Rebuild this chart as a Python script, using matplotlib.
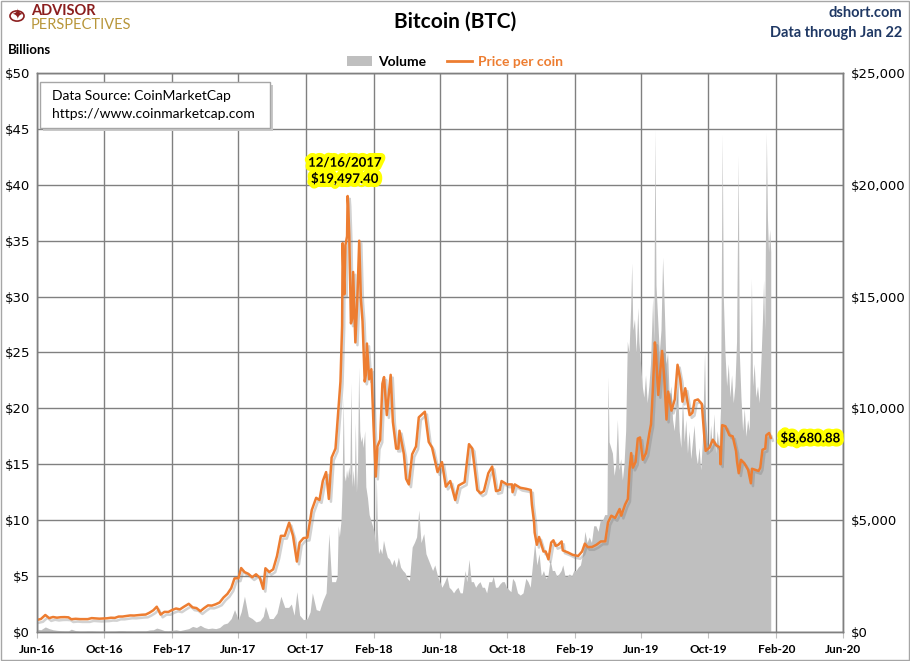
import pandas as pd
import numpy as np
import matplotlib
matplotlib.use("Agg")
import matplotlib.pyplot as plt
import matplotlib.dates as mdates
import matplotlib.patheffects as pe
from matplotlib.patches import Patch, Rectangle, Circle
from matplotlib.lines import Line2D

# Bitcoin price per coin (USD)
price_dates = [
    "2016-06-01", "2016-06-08", "2016-06-16", "2016-06-23", "2016-06-30", "2016-07-07", "2016-07-14",
    "2016-07-21", "2016-07-28", "2016-08-02", "2016-08-10", "2016-08-18", "2016-08-25", "2016-09-01",
    "2016-09-08", "2016-09-15", "2016-09-22", "2016-09-29", "2016-10-06", "2016-10-13", "2016-10-20",
    "2016-10-27", "2016-11-03", "2016-11-10", "2016-11-17", "2016-11-24", "2016-12-01", "2016-12-08",
    "2016-12-15", "2016-12-22", "2016-12-29",
    "2017-01-04", "2017-01-11", "2017-01-18", "2017-01-25", "2017-02-01", "2017-02-08", "2017-02-15",
    "2017-02-22", "2017-03-03", "2017-03-10", "2017-03-17", "2017-03-24", "2017-03-31", "2017-04-07",
    "2017-04-14", "2017-04-21", "2017-04-28", "2017-05-05", "2017-05-12", "2017-05-19", "2017-05-25",
    "2017-06-01", "2017-06-06", "2017-06-12", "2017-06-19", "2017-06-26", "2017-07-03", "2017-07-10",
    "2017-07-16", "2017-07-20", "2017-07-27", "2017-08-03", "2017-08-10", "2017-08-17", "2017-08-24",
    "2017-09-01", "2017-09-08", "2017-09-15", "2017-09-20", "2017-09-27", "2017-10-04", "2017-10-12",
    "2017-10-20", "2017-10-26", "2017-11-01", "2017-11-07", "2017-11-12", "2017-11-17", "2017-11-24",
    "2017-11-29", "2017-12-03", "2017-12-06", "2017-12-07", "2017-12-08", "2017-12-10", "2017-12-12",
    "2017-12-15", "2017-12-16", "2017-12-17", "2017-12-19", "2017-12-22", "2017-12-24", "2017-12-26",
    "2017-12-30",
    "2018-01-03", "2018-01-06", "2018-01-09", "2018-01-12", "2018-01-16", "2018-01-18", "2018-01-20",
    "2018-01-24", "2018-01-28", "2018-02-01", "2018-02-05", "2018-02-08", "2018-02-13", "2018-02-17",
    "2018-02-20", "2018-02-25", "2018-03-04", "2018-03-08", "2018-03-14", "2018-03-18", "2018-03-20",
    "2018-03-28", "2018-04-01", "2018-04-06", "2018-04-12", "2018-04-19", "2018-04-24", "2018-05-05",
    "2018-05-12", "2018-05-18", "2018-05-28", "2018-06-05", "2018-06-12", "2018-06-20", "2018-06-29",
    "2018-07-05", "2018-07-16", "2018-07-24", "2018-07-30", "2018-08-08", "2018-08-14", "2018-08-20",
    "2018-08-28", "2018-09-04", "2018-09-11", "2018-09-18", "2018-09-21", "2018-10-01", "2018-10-10",
    "2018-10-11", "2018-10-15", "2018-10-25", "2018-11-05", "2018-11-13", "2018-11-15", "2018-11-19",
    "2018-11-20", "2018-11-24", "2018-11-28", "2018-12-06", "2018-12-10", "2018-12-15", "2018-12-20",
    "2018-12-24", "2018-12-28",
    "2019-01-02", "2019-01-08", "2019-01-10", "2019-01-20", "2019-01-28", "2019-02-07", "2019-02-14",
    "2019-02-19", "2019-02-24", "2019-03-04", "2019-03-12", "2019-03-20", "2019-03-28", "2019-04-02",
    "2019-04-08", "2019-04-15", "2019-04-23", "2019-04-26", "2019-05-03", "2019-05-08", "2019-05-11",
    "2019-05-14", "2019-05-17", "2019-05-22", "2019-05-26", "2019-05-30", "2019-06-04", "2019-06-10",
    "2019-06-16", "2019-06-19", "2019-06-22", "2019-06-26", "2019-06-28", "2019-07-02", "2019-07-09",
    "2019-07-13", "2019-07-17", "2019-07-20", "2019-07-26", "2019-08-01", "2019-08-06", "2019-08-11",
    "2019-08-15", "2019-08-20", "2019-08-28", "2019-09-02", "2019-09-06", "2019-09-12", "2019-09-19",
    "2019-09-24", "2019-09-26", "2019-10-03", "2019-10-09", "2019-10-15", "2019-10-22", "2019-10-23",
    "2019-10-25", "2019-10-26", "2019-11-01", "2019-11-08", "2019-11-14", "2019-11-20", "2019-11-22",
    "2019-11-25", "2019-11-29", "2019-12-05", "2019-12-12", "2019-12-17", "2019-12-19", "2019-12-25",
    "2019-12-31",
    "2020-01-03", "2020-01-07", "2020-01-12", "2020-01-14", "2020-01-19", "2020-01-22",
]
price_usd = [
    540, 580, 760, 620, 670, 640, 660,
    665, 655, 570, 590, 575, 575, 575,
    620, 608, 595, 605, 612, 637, 630,
    690, 690, 715, 740, 735, 755, 770,
    780, 865, 975,
    1130, 780, 900, 895, 985, 1050, 1010,
    1125, 1260, 1100, 1070, 930, 1070, 1190,
    1180, 1240, 1320, 1540, 1700, 1960, 2400,
    2400, 2860, 2680, 2600, 2450, 2580, 2420,
    1930, 2850, 2680, 2800, 3400, 4300, 4300,
    4890, 4300, 3150, 4000, 4200, 4220, 5450,
    6000, 5900, 6750, 7150, 5950, 7800, 8200,
    9900, 11200, 13700, 17390, 16400, 15100, 17300,
    17700, 19497.40, 19140, 17700, 13800, 14000, 16100,
    12950,
    15150, 17500, 14900, 13900, 11200, 11500, 12900,
    11300, 11750, 9200, 6950, 8300, 8600, 11100,
    11400, 9700, 11500, 9400, 8200, 8200, 9000,
    7950, 6850, 6600, 7950, 8300, 9600, 9850,
    8500, 8250, 7150, 7600, 6500, 6750, 5900,
    6550, 6700, 8400, 8200, 6350, 6200, 6300,
    7100, 7400, 6300, 6350, 6750, 6600, 6600,
    6250, 6600, 6450, 6400, 6350, 5700, 4900,
    4450, 3900, 4250, 3600, 3600, 3250, 4000,
    4100, 3850,
    3900, 4050, 3650, 3550, 3450, 3400, 3600,
    3950, 3800, 3800, 3900, 4050, 4050, 4900,
    5200, 5100, 5500, 5200, 5700, 5950, 7250,
    8000, 7350, 7600, 8650, 8700, 7700, 8000,
    8900, 9300, 10700, 12950, 12400, 10600, 12570,
    11350, 9500, 10750, 9900, 10400, 11950, 11300,
    10300, 10900, 9700, 9800, 10350, 10400, 10200,
    8600, 8100, 8250, 8600, 8350, 8250, 7500,
    8650, 9250, 9200, 8800, 8750, 8100, 7600,
    7100, 7700, 7550, 7250, 6650, 7300, 7250,
    7200,
    7350, 8150, 8200, 8800, 8900, 8680.88,
]

# Trading volume (billions of USD), by year
vol_dates_2016 = [
    "2016-06-01", "2016-06-08", "2016-06-16", "2016-06-23", "2016-06-30", "2016-07-07", "2016-07-14",
    "2016-07-21", "2016-07-28", "2016-08-02", "2016-08-10", "2016-08-18", "2016-08-25", "2016-09-01",
    "2016-09-08", "2016-09-15", "2016-09-22", "2016-09-29", "2016-10-06", "2016-10-13", "2016-10-20",
    "2016-10-27", "2016-11-03", "2016-11-10", "2016-11-17", "2016-11-24", "2016-12-01", "2016-12-08",
    "2016-12-15", "2016-12-22", "2016-12-29",
]
vol_bn_2016 = [
    0.25, 0.2, 0.45, 0.3, 0.2, 0.15, 0.12,
    0.1, 0.1, 0.25, 0.12, 0.08, 0.08, 0.1,
    0.1, 0.08, 0.07, 0.08, 0.07, 0.08, 0.08,
    0.12, 0.12, 0.1, 0.1, 0.09, 0.1, 0.1,
    0.1, 0.18, 0.2,
]
vol_dates_2017 = [
    "2017-01-04", "2017-01-11", "2017-01-18", "2017-01-25", "2017-02-01", "2017-02-08", "2017-02-15",
    "2017-02-22", "2017-03-03", "2017-03-10", "2017-03-17", "2017-03-24", "2017-03-31", "2017-04-07",
    "2017-04-14", "2017-04-21", "2017-04-28", "2017-05-05", "2017-05-12", "2017-05-19", "2017-05-25",
    "2017-06-01", "2017-06-06", "2017-06-12", "2017-06-19", "2017-06-26", "2017-07-03", "2017-07-10",
    "2017-07-16", "2017-07-20", "2017-07-27", "2017-08-03", "2017-08-10", "2017-08-17", "2017-08-24",
    "2017-08-31", "2017-09-05", "2017-09-10", "2017-09-15", "2017-09-20", "2017-09-27", "2017-10-04",
    "2017-10-09", "2017-10-13", "2017-10-20", "2017-10-26", "2017-11-01", "2017-11-07", "2017-11-12",
    "2017-11-17", "2017-11-24", "2017-11-27", "2017-11-29", "2017-12-01", "2017-12-04", "2017-12-06",
    "2017-12-08", "2017-12-10", "2017-12-12", "2017-12-14", "2017-12-16", "2017-12-18", "2017-12-20",
    "2017-12-22", "2017-12-24", "2017-12-26", "2017-12-28", "2017-12-30",
]
vol_bn_2017 = [
    0.35, 0.25, 0.12, 0.1, 0.15, 0.2, 0.12,
    0.2, 0.3, 0.5, 0.4, 0.6, 0.4, 0.3,
    0.35, 0.3, 0.4, 0.7, 0.8, 1.2, 2.0,
    1.1, 1.8, 3.2, 1.4, 1.2, 0.9, 1.0,
    1.4, 2.3, 1.2, 1.2, 1.7, 3.2, 2.2,
    2.2, 2.5, 1.5, 3.6, 1.5, 1.1, 1.2,
    1.8, 3.5, 2.0, 1.9, 2.8, 3.5, 8.8,
    4.5, 4.5, 5.0, 9.5, 8.5, 10.0, 13.0,
    21.0, 14.0, 13.5, 14.5, 13.8, 14.8, 14.0,
    22.3, 13.0, 14.5, 13.0, 18.7,
]
vol_dates_2018 = [
    "2018-01-01", "2018-01-03", "2018-01-05", "2018-01-07", "2018-01-09", "2018-01-11", "2018-01-13",
    "2018-01-16", "2018-01-18", "2018-01-21", "2018-01-24", "2018-01-27", "2018-01-30", "2018-02-02",
    "2018-02-04", "2018-02-06", "2018-02-08", "2018-02-10", "2018-02-13", "2018-02-16", "2018-02-19",
    "2018-02-22", "2018-02-26", "2018-03-02", "2018-03-06", "2018-03-10", "2018-03-14", "2018-03-18",
    "2018-03-22", "2018-03-26", "2018-03-30", "2018-04-03", "2018-04-07", "2018-04-12", "2018-04-16",
    "2018-04-20", "2018-04-24", "2018-04-28", "2018-05-03", "2018-05-07", "2018-05-11", "2018-05-15",
    "2018-05-19", "2018-05-23", "2018-05-28", "2018-06-01", "2018-06-05", "2018-06-10", "2018-06-14",
    "2018-06-18", "2018-06-22", "2018-06-26", "2018-06-30", "2018-07-04", "2018-07-08", "2018-07-12",
    "2018-07-17", "2018-07-20", "2018-07-24", "2018-07-28", "2018-08-01", "2018-08-05", "2018-08-09",
    "2018-08-13", "2018-08-17", "2018-08-21", "2018-08-25", "2018-08-29", "2018-09-03", "2018-09-06",
    "2018-09-10", "2018-09-14", "2018-09-18", "2018-09-22", "2018-09-26", "2018-09-30", "2018-10-04",
    "2018-10-08", "2018-10-11", "2018-10-15", "2018-10-20", "2018-10-25", "2018-10-30", "2018-11-04",
    "2018-11-08", "2018-11-12", "2018-11-15", "2018-11-20", "2018-11-24", "2018-11-28", "2018-12-02",
    "2018-12-06", "2018-12-10", "2018-12-14", "2018-12-18", "2018-12-22", "2018-12-26", "2018-12-30",
]
vol_bn_2018 = [
    12.5, 15.0, 23.7, 18.0, 17.0, 17.5, 16.5,
    18.0, 13.0, 12.0, 10.5, 10.0, 9.5, 9.0,
    8.0, 14.0, 9.0, 7.0, 7.5, 7.0, 8.2,
    7.5, 6.7, 6.5, 6.0, 6.5, 5.8, 6.7,
    5.8, 5.5, 5.3, 4.8, 4.6, 7.6, 8.0,
    8.5, 10.9, 8.0, 8.8, 7.0, 6.5, 6.0,
    5.5, 6.0, 5.0, 4.5, 4.0, 4.5, 5.0,
    4.0, 3.8, 3.5, 3.8, 4.0, 3.5, 3.5,
    5.5, 4.5, 6.5, 4.5, 4.5, 4.0, 4.3,
    4.5, 4.0, 4.0, 3.5, 4.5, 4.5, 5.0,
    4.0, 4.0, 4.3, 4.5, 4.5, 4.0, 3.8,
    3.6, 4.8, 4.5, 3.5, 3.3, 3.5, 4.8,
    4.5, 4.0, 5.5, 8.0, 6.0, 7.0, 5.0,
    5.5, 4.8, 5.0, 6.5, 5.5, 5.5, 5.0,
]
vol_dates_2019 = [
    "2019-01-03", "2019-01-07", "2019-01-10", "2019-01-14", "2019-01-18", "2019-01-22", "2019-01-26",
    "2019-01-30", "2019-02-03", "2019-02-07", "2019-02-11", "2019-02-15", "2019-02-19", "2019-02-23",
    "2019-02-27", "2019-03-03", "2019-03-07", "2019-03-11", "2019-03-15", "2019-03-19", "2019-03-23",
    "2019-03-27", "2019-03-31", "2019-04-02", "2019-04-04", "2019-04-07", "2019-04-10", "2019-04-13",
    "2019-04-16", "2019-04-19", "2019-04-22", "2019-04-25", "2019-04-28", "2019-05-01", "2019-05-04",
    "2019-05-07", "2019-05-10", "2019-05-13", "2019-05-15", "2019-05-17", "2019-05-20", "2019-05-23",
    "2019-05-26", "2019-05-28", "2019-05-31", "2019-06-03", "2019-06-06", "2019-06-09", "2019-06-12",
    "2019-06-15", "2019-06-18", "2019-06-22", "2019-06-24", "2019-06-26", "2019-06-28", "2019-07-01",
    "2019-07-04", "2019-07-07", "2019-07-10", "2019-07-13", "2019-07-16", "2019-07-19", "2019-07-22",
    "2019-07-25", "2019-07-28", "2019-07-31", "2019-08-03", "2019-08-06", "2019-08-09", "2019-08-12",
    "2019-08-15", "2019-08-18", "2019-08-21", "2019-08-24", "2019-08-27", "2019-08-30", "2019-09-02",
    "2019-09-05", "2019-09-08", "2019-09-11", "2019-09-14", "2019-09-17", "2019-09-20", "2019-09-24",
    "2019-09-26", "2019-09-29", "2019-10-02", "2019-10-05", "2019-10-08", "2019-10-11", "2019-10-14",
    "2019-10-17", "2019-10-20", "2019-10-23", "2019-10-26", "2019-10-28", "2019-10-31", "2019-11-03",
    "2019-11-06", "2019-11-09", "2019-11-12", "2019-11-15", "2019-11-18", "2019-11-21", "2019-11-24",
    "2019-11-26", "2019-11-29", "2019-12-02", "2019-12-05", "2019-12-08", "2019-12-11", "2019-12-14",
    "2019-12-18", "2019-12-20", "2019-12-23", "2019-12-26", "2019-12-29",
]
vol_bn_2019 = [
    5.2, 5.5, 6.0, 5.0, 5.0, 5.2, 5.0,
    5.5, 5.5, 5.8, 6.0, 7.0, 9.0, 8.0,
    8.5, 8.0, 9.5, 9.5, 9.0, 10.0, 10.0,
    10.5, 10.5, 22.8, 17.0, 16.5, 16.0, 14.0,
    15.0, 19.0, 14.5, 15.5, 13.6, 15.0, 18.0,
    26.0, 25.0, 29.0, 33.0, 27.0, 28.0, 25.0,
    29.0, 26.0, 24.0, 22.0, 21.0, 23.0, 20.5,
    22.0, 24.0, 30.0, 26.0, 45.0, 31.0, 28.0,
    25.0, 27.0, 33.5, 29.0, 24.0, 25.0, 21.0,
    22.0, 19.0, 18.0, 20.0, 22.0, 18.0, 16.5,
    21.0, 17.0, 19.0, 16.0, 18.0, 15.5, 17.0,
    18.5, 16.0, 15.0, 16.5, 14.5, 17.0, 25.0,
    19.0, 17.0, 16.0, 18.5, 16.5, 19.5, 16.0,
    18.0, 16.5, 20.0, 44.5, 30.0, 25.0, 22.0,
    24.0, 21.0, 23.0, 20.5, 22.0, 26.0, 42.6,
    25.0, 21.0, 18.0, 20.0, 17.5, 19.0, 18.0,
    31.6, 22.0, 24.0, 21.0, 22.0,
]
vol_dates_2020 = [
    "2020-01-01", "2020-01-04", "2020-01-07", "2020-01-09", "2020-01-11", "2020-01-14", "2020-01-16",
    "2020-01-18", "2020-01-20", "2020-01-22",
]
vol_bn_2020 = [
    20.5, 24.0, 28.0, 31.5, 27.0, 44.7, 37.0,
    34.0, 36.0, 34.0,
]

vol_dates = vol_dates_2016 + vol_dates_2017 + vol_dates_2018 + vol_dates_2019 + vol_dates_2020
vol_bn = vol_bn_2016 + vol_bn_2017 + vol_bn_2018 + vol_bn_2019 + vol_bn_2020
assert len(vol_dates) == len(vol_bn)
assert len(price_dates) == len(price_usd)

price = pd.Series(price_usd, index=pd.to_datetime(price_dates))
volume = pd.Series(vol_bn, index=pd.to_datetime(vol_dates))

plt.rcParams['font.family'] = ['Lato', 'DejaVu Sans']

fig = plt.figure(figsize=(9.1, 6.61), dpi=100)
ax = fig.add_axes([0.0407, 0.0439, 0.8857, 0.8457])
ax2 = ax.twinx()

grid_col = '#808080'
ax.set_axisbelow(True)
ax.grid(True, color=grid_col, linewidth=1.0)
ax.fill_between(volume.index, 0, volume.values, color='#BFBFBF', linewidth=0, zorder=2)

shadow = [pe.SimpleLineShadow(offset=(1.5, -2), shadow_color='#7f7f7f', alpha=0.35), pe.Normal()]
ax2.plot(price.index, price.values, color='#ED7D31', linewidth=1.8, path_effects=shadow)

ax.set_xlim(pd.Timestamp('2016-06-01'), pd.Timestamp('2020-06-01'))
ax.set_ylim(0, 50)
ax2.set_ylim(0, 25000)
ax.set_yticks(np.arange(0, 51, 5))
ax2.set_yticks(np.arange(0, 25001, 5000))
ax.set_yticklabels(['$%d' % v for v in np.arange(0, 51, 5)])
ax2.set_yticklabels(['${:,}'.format(v) for v in np.arange(0, 25001, 5000)])

ax.xaxis.set_major_locator(mdates.MonthLocator(bymonth=[2, 6, 10]))
ax.xaxis.set_major_formatter(mdates.DateFormatter('%b-%y'))

for a in (ax, ax2):
    for s in a.spines.values():
        s.set_color(grid_col)
        s.set_linewidth(1.0)
ax.tick_params(axis='y', length=0, pad=5, labelsize=9.5)
ax2.tick_params(axis='y', length=0, pad=6, labelsize=9.5)
for lbl in ax.get_yticklabels() + ax2.get_yticklabels():
    lbl.set_family('DejaVu Sans')
ax.tick_params(axis='x', length=4, color='#BFBFBF', pad=5, labelsize=8.5)
for lbl in ax.get_xticklabels():
    lbl.set_fontweight('bold')

# annotations
glow = [pe.withStroke(linewidth=6, foreground='#FFFF00')]
peak_day = pd.Timestamp('2017-12-16')
ax2.annotate('12/16/2017\n$19,497.40', xy=(peak_day, 19497.40), xytext=(-2, 8),
             textcoords='offset points', ha='center', va='bottom', fontsize=9.5,
             fontweight='bold', linespacing=1.3, path_effects=glow, zorder=5)
ax2.annotate('$8,680.88', xy=(price.index[-1], price.values[-1]), xytext=(7, 0),
             textcoords='offset points', ha='left', va='center', fontsize=9.5,
             fontweight='bold', path_effects=glow, zorder=5)

# source box
box = Rectangle((40 / 910, 1 - 128 / 661), 230 / 910, 46 / 661, transform=fig.transFigure,
                facecolor='white', edgecolor='#A6A6A6', linewidth=1.0, zorder=10)
box_sh = Rectangle((43 / 910, 1 - 131 / 661), 230 / 910, 46 / 661, transform=fig.transFigure,
                   facecolor='#C8C8C8', edgecolor='none', zorder=9)
fig.patches.extend([box_sh, box])
fig.text(52 / 910, 1 - 96 / 661, 'Data Source: CoinMarketCap', fontsize=10, va='center', zorder=11)
fig.text(52 / 910, 1 - 114 / 661, 'https://www.coinmarketcap.com', fontsize=10, va='center', zorder=11)

# titles
fig.text(0.5, 1 - 22 / 661, 'Bitcoin (BTC)', ha='center', va='center', fontsize=15, fontweight='bold')
fig.text(902 / 910, 1 - 13 / 661, 'dshort.com', ha='right', va='center', fontsize=10.5,
         fontweight='bold', color='#1F3864')
fig.text(902 / 910, 1 - 33 / 661, 'Data through Jan 22', ha='right', va='center', fontsize=10.5,
         fontweight='bold', color='#1F3864')
fig.text(8 / 910, 1 - 50 / 661, 'Billions', ha='left', va='center', fontsize=9.5, fontweight='bold')

# logo
fig.patches.append(Circle((17 / 910, 1 - 16 / 661), 7 / 910, transform=fig.transFigure,
                          facecolor='none', edgecolor='#8B1E1E', linewidth=1.2))
fig.text(17 / 910, 1 - 16 / 661, '✦', ha='center', va='center', fontsize=10, color='#8B1E1E',
         family='DejaVu Sans')
fig.text(31 / 910, 1 - 11 / 661, 'ADVISOR', ha='left', va='center', fontsize=10.5, fontweight='bold',
         color='#8B1E1E')
fig.text(31 / 910, 1 - 25 / 661, 'PERSPECTIVES', ha='left', va='center', fontsize=10.5,
         color='#B8963A')

# legend
handles = [Patch(facecolor='#BFBFBF', edgecolor='none'),
           Line2D([], [], color='#ED7D31', linewidth=2)]
leg = fig.legend(handles, ['Volume', 'Price per coin'], loc='center', ncol=2,
                 bbox_to_anchor=(0.5, 1 - 62 / 661), frameon=False, fontsize=10,
                 handlelength=1.8, handletextpad=0.4, columnspacing=1.5)
for t, c in zip(leg.get_texts(), ['black', '#ED7D31']):
    t.set_color(c)
    t.set_fontweight('bold')

# figure border
fig.patches.append(Rectangle((0.001, 0.001), 0.998, 0.998, transform=fig.transFigure,
                             facecolor='none', edgecolor='#A6A6A6', linewidth=1))

fig.savefig('out.png', dpi=100)
